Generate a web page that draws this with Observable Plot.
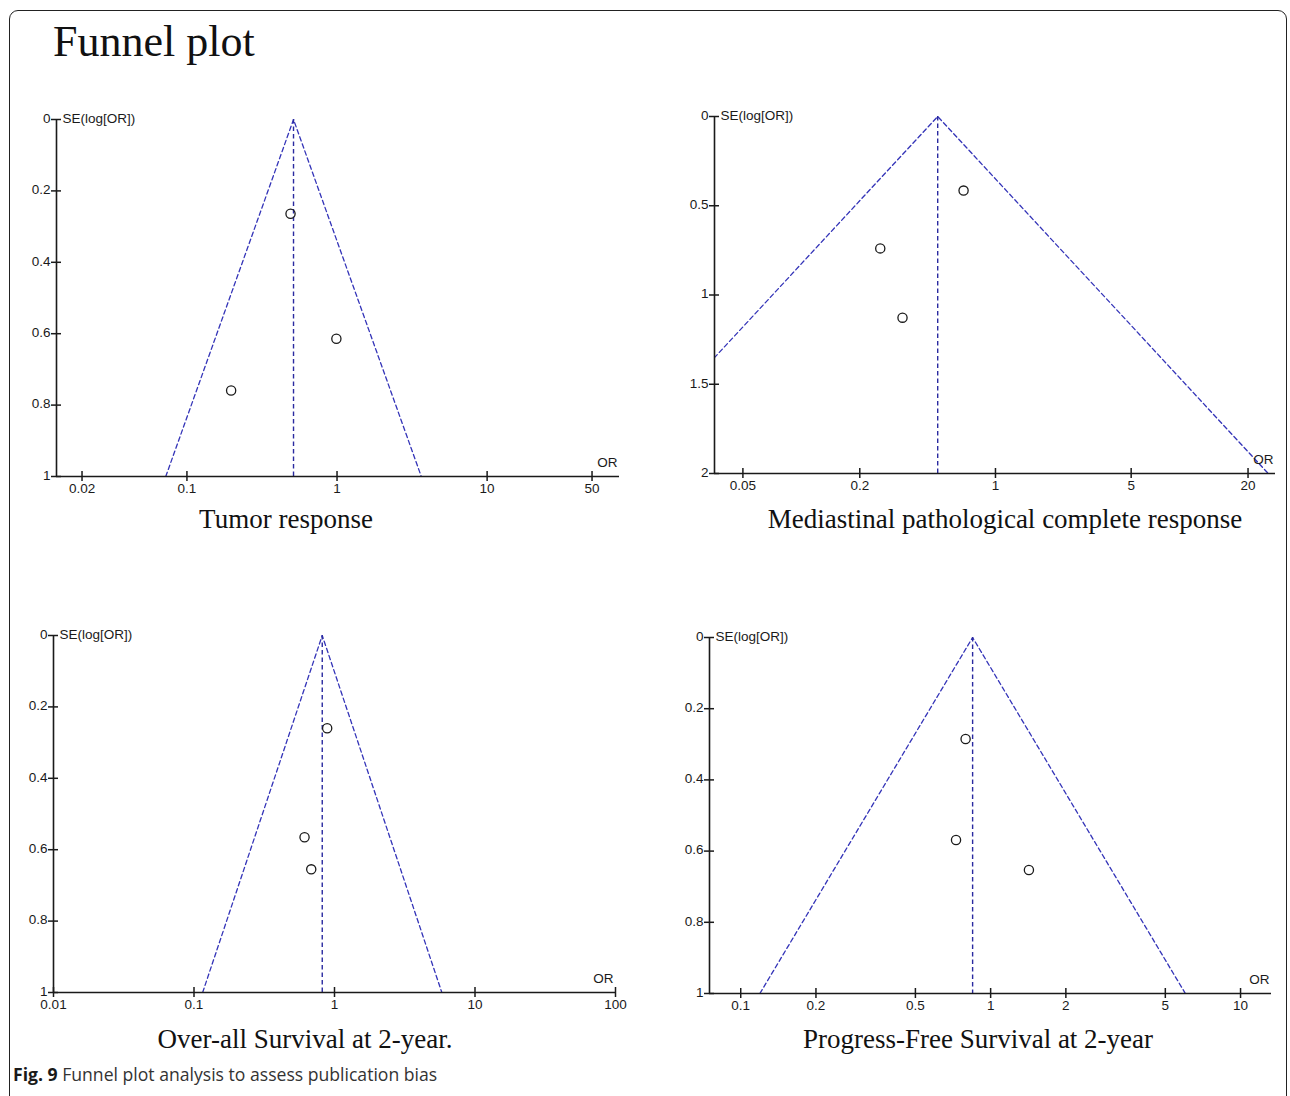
<!DOCTYPE html>
<html>
<head>
<meta charset="utf-8">
<script src="https://cdn.jsdelivr.net/npm/d3@7"></script>
<script src="https://cdn.jsdelivr.net/npm/@observablehq/plot@0.6"></script>
<style>
  body { margin: 0; background: #fff; }
  #page { position: relative; width: 1290px; height: 1096px; overflow: hidden; background: #fff; }
  #frame { position: absolute; left: 9px; top: 10px; width: 1276px; height: 1200px; border: 1.6px solid #222; border-radius: 9px; }
  .title { position: absolute; left: 53px; top: 20px; font-family: "Liberation Serif", serif; font-size: 44px; color: #111; white-space: nowrap; line-height: 1; }
  .sub { position: absolute; font-family: "Liberation Serif", serif; font-size: 27px; color: #111; white-space: nowrap; transform: translateX(-50%); line-height: 1; }
  .panel { position: absolute; }
  .panel svg { overflow: visible; }
  .caption { position: absolute; left: 13px; top: 1066px; font-family: "Open Sans", sans-serif; font-size: 17.6px; color: #333; white-space: nowrap; line-height: 1; }
  .caption b { color: #1a1a1a; }
</style>
</head>
<body>
<div id="page">
  <div id="frame"></div>
  <div class="title">Funnel plot</div>
  <div class="caption"><b>Fig. 9</b> Funnel plot analysis to assess publication bias</div>
</div>
<script>
// ---- data ----
const panelTitles = ["Tumor response", "Mediastinal pathological complete response", "Over-all Survival at 2-year.", "Progress-Free Survival at 2-year"];

const tumorOR = [0.49, 0.99, 0.197];
const tumorSE = [0.264, 0.614, 0.759];
const mediastinalOR = [0.685, 0.255, 0.332];
const mediastinalSE = [0.415, 0.739, 1.127];
const osOR = [0.887, 0.612, 0.683];
const osSE = [0.26, 0.565, 0.655];
const pfsOR = [0.794, 0.727, 1.423];
const pfsSE = [0.285, 0.569, 0.653];

const pooledOR = [0.513, 0.504, 0.818, 0.847];
const seMax = [1, 2, 1, 1];

const xTicks1 = [0.02, 0.1, 1, 10, 50];
const xTicks2 = [0.05, 0.2, 1, 5, 20];
const xTicks3 = [0.01, 0.1, 1, 10, 100];
const xTicks4 = [0.1, 0.2, 0.5, 1, 2, 5, 10];
const yTicks1 = [0, 0.2, 0.4, 0.6, 0.8, 1];
const yTicks2 = [0, 0.5, 1, 1.5, 2];

const xDomains = [[0.01352, 76.2], [0.0357, 27.7], [0.01, 100], [0.075, 13.3]];

const yLabel = "SE(log[OR])";
const xLabel = "OR";

// ---- layout (position / size only) ----
const boxes = [
  {left: 0,   top: 95,  width: 640, height: 410, mL: 56, mR: 21, mT: 24, mB: 29, subX: 286, subY: 506},
  {left: 645, top: 95,  width: 645, height: 410, mL: 69, mR: 15, mT: 21, mB: 32, subX: 1005, subY: 506},
  {left: 0,   top: 610, width: 640, height: 410, mL: 53, mR: 25, mT: 25, mB: 28, subX: 305, subY: 1026},
  {left: 645, top: 610, width: 645, height: 410, mL: 64, mR: 19, mT: 27, mB: 27, subX: 978, subY: 1026}
];

const panels = [
  {or: tumorOR, se: tumorSE, xTicks: xTicks1, yTicks: yTicks1},
  {or: mediastinalOR, se: mediastinalSE, xTicks: xTicks2, yTicks: yTicks2},
  {or: osOR, se: osSE, xTicks: xTicks3, yTicks: yTicks1},
  {or: pfsOR, se: pfsSE, xTicks: xTicks4, yTicks: yTicks1}
];

const FUNNEL = "#3434b8";
const CENTER = "#2a2aa0";
const INK = "#1a1a1a";
const FS = 13.5;

function funnelPlot(p, i) {
  const b = boxes[i];
  const pooled = pooledOR[i];
  const sm = seMax[i];
  const pts = p.or.map((d, k) => ({or: d, se: p.se[k]}));
  const z = 1.96;
  const lo = Math.exp(Math.log(pooled) - z * sm);
  const hi = Math.exp(Math.log(pooled) + z * sm);
  const funnel = [{or: lo, se: sm}, {or: pooled, se: 0}, {or: hi, se: sm}];
  const center = [{x: pooled, y1: 0, y2: sm}];
  const xd = xDomains[i];
  return Plot.plot({
    width: b.width,
    height: b.height,
    marginLeft: b.mL,
    marginRight: b.mR,
    marginTop: b.mT,
    marginBottom: b.mB,
    style: {fontFamily: "'Liberation Sans', Arial, sans-serif", fontSize: FS + "px", color: INK, background: "transparent", overflow: "visible"},
    x: {type: "log", domain: xd, axis: null},
    y: {domain: [0, sm], reverse: true, axis: null},
    marks: [
      Plot.line(funnel, {x: "or", y: "se", stroke: FUNNEL, strokeWidth: 1.3, strokeDasharray: "4.5,3", clip: true}),
      Plot.ruleX(center, {x: "x", y1: "y1", y2: "y2", stroke: CENTER, strokeWidth: 1.4, strokeDasharray: "4.5,3"}),
      Plot.ruleX([xd[0]], {stroke: INK, strokeWidth: 1.6}),
      Plot.ruleY([sm], {stroke: INK, strokeWidth: 1.6}),
      Plot.axisX({ticks: p.xTicks, tickSize: 10, dy: -5, tickFormat: () => "", stroke: INK, strokeWidth: 1.5, label: null}),
      Plot.axisY({ticks: p.yTicks, tickSize: 10, dx: 5, tickFormat: () => "", stroke: INK, strokeWidth: 1.5, label: null}),
      Plot.text(p.xTicks, {x: d => d, text: d => String(d), frameAnchor: "bottom", lineAnchor: "top", dy: 7, fill: INK, fontSize: FS}),
      Plot.text(p.yTicks, {y: d => d, text: d => String(d), frameAnchor: "left", dx: -6, dy: -1, textAnchor: "end", fill: INK, fontSize: FS}),
      Plot.dot(pts, {x: "or", y: "se", r: 4.6, stroke: INK, strokeWidth: 1.3, fill: "none"}),
      Plot.text([yLabel], {frameAnchor: "top-left", dx: 6, dy: -6, textAnchor: "start", fill: INK, fontSize: FS}),
      Plot.text([xLabel], {frameAnchor: "bottom-right", dx: -2, dy: -10, textAnchor: "end", fill: INK, fontSize: FS})
    ]
  });
}

const page = document.getElementById("page");
panels.forEach((p, i) => {
  const b = boxes[i];
  const div = document.createElement("div");
  div.className = "panel";
  div.style.left = b.left + "px";
  div.style.top = b.top + "px";
  div.appendChild(funnelPlot(p, i));
  page.appendChild(div);
  const s = document.createElement("div");
  s.className = "sub";
  s.style.left = b.subX + "px";
  s.style.top = b.subY + "px";
  s.textContent = panelTitles[i];
  page.appendChild(s);
});
</script>
</body>
</html>
